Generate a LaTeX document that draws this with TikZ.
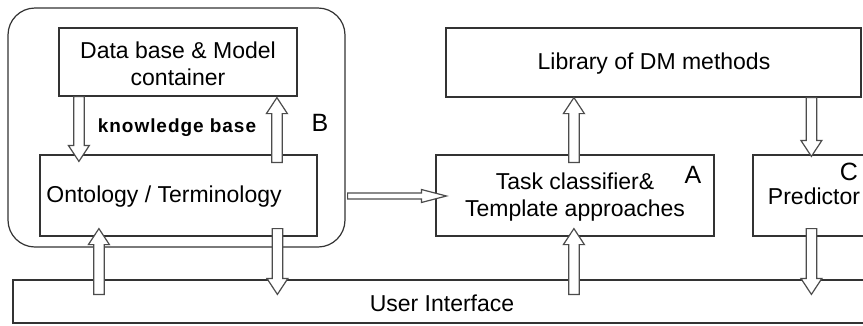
\documentclass[tikz,border=0pt]{standalone}
\usepackage{fontspec}
\setmainfont{Liberation Sans}
\newfontfamily\kbfont[LetterSpace=5.0]{Liberation Sans}
\usetikzlibrary{calc}

% sizes of the hollow block arrows (shaft half width, head half width, head length)
\def\baSW{5.25}
\def\baHW{10.5}
\def\baHL{16}

% hollow block arrow from a tail point to a tip point along the unit direction (#3,#4)
\newcommand\blockarrow[4]{%
  \draw[blockarrow]
       ($(#1)+({-\baSW*(#4)},{\baSW*(#3)})$)
    -- ($(#2)+({-\baHL*(#3)-\baSW*(#4)},{-\baHL*(#4)+\baSW*(#3)})$)
    -- ($(#2)+({-\baHL*(#3)-\baHW*(#4)},{-\baHL*(#4)+\baHW*(#3)})$)
    -- (#2)
    -- ($(#2)+({-\baHL*(#3)+\baHW*(#4)},{-\baHL*(#4)-\baHW*(#3)})$)
    -- ($(#2)+({-\baHL*(#3)+\baSW*(#4)},{-\baHL*(#4)-\baSW*(#3)})$)
    -- ($(#1)+({\baSW*(#4)},{-\baSW*(#3)})$) -- cycle;}

\tikzset{
  box/.style={draw=black!80, line width=1.2pt, rectangle, inner sep=0pt,
              fill=white},
  txt/.style={font=\fontsize{23}{26.5}\selectfont, align=center, inner sep=0pt},
  tag/.style={font=\fontsize{25}{28}\selectfont, inner sep=0pt},
  blockarrow/.style={draw=black!70, line width=1.2pt, fill=white, line join=miter},
}

\begin{document}
\begin{tikzpicture}[x=1pt, y=-1pt]
  \useasboundingbox (0,0) rectangle (863,325);
  \clip (0,0) rectangle (863,325);
  \fill[white] (0,0) rectangle (863,325);

  % group B: knowledge base
  \node[box, rounded corners=27pt, minimum width=337pt, minimum height=239pt]
    (outer) at (176.5,127.5) {};
  \node[box, minimum width=238pt, minimum height=68pt] (db) at (178,62) {};
  \node[txt] (dbt) at (178,64) {Data base \& Model\\container};
  \node[box, minimum width=277pt, minimum height=81pt] (ont) at (178.5,195.5) {};
  \node[txt] (ontt) at (164,197) {Ontology / Terminology};
  \node[inner sep=0pt, font=\fontsize{19}{22}\selectfont\kbfont\bfseries]
    (kb) at (177,128) {knowledge base};
  \node[tag] (tb) at (320,123) {B};

  % DM methods, task classifier, predictor
  \node[box, minimum width=415pt, minimum height=69pt] (lib) at (653.5,62.5) {};
  \node[txt] (libt) at (654,64) {Library of DM methods};
  \node[box, minimum width=278pt, minimum height=81pt] (task) at (575,195.5) {};
  \node[txt] (taskt) at (575,197) {Task classifier\&\\Template approaches};
  \node[tag] (ta) at (693,175) {A};
  \node[box, minimum width=122pt, minimum height=81pt] (pred) at (814,195.5) {};
  \node[txt] (predt) at (814,196) {Predictor};
  \node[tag] (tc) at (849,172) {C};

  % user interface
  \node[box, minimum width=858pt, minimum height=43pt] (ui) at (442,301.5) {};
  \node[txt] (uit) at (442,303) {User Interface};

  % arrow end points
  \coordinate (a1t) at ($(db.south west)+(20.5,0)$);
  \coordinate (a1h) at ($(ont.north -| a1t)+(0,7)$);
  \coordinate (a2t) at ($(ont.north west)+(237.5,8)$);
  \coordinate (a2h) at ($(db.south -| a2t)+(0,1)$);
  \coordinate (a3t) at ($(ui.north west)+(86.5,15)$);
  \coordinate (a3h) at ($(ont.south -| a3t)+(0,-8)$);
  \coordinate (a4t) at ($(ont.south west)+(238,-8)$);
  \coordinate (a4h) at ($(ui.north -| a4t)+(0,15)$);
  \coordinate (a5t) at ($(outer.east |- ont.center)+(2,0.5)$);
  \coordinate (a5h) at ($(task.west |- a5t)+(11,0)$);
  \coordinate (a6t) at ($(task.north west)+(138.5,8)$);
  \coordinate (a6h) at ($(lib.south -| a6t)+(0,0)$);
  \coordinate (a7t) at ($(ui.north -| a6t)+(0,15)$);
  \coordinate (a7h) at ($(task.south -| a6t)+(0,-8)$);
  \coordinate (a8t) at ($(lib.south west)+(366,0)$);
  \coordinate (a8h) at ($(pred.north -| a8t)+(0,2)$);
  \coordinate (a9t) at ($(pred.south -| a8t)+(0,-8)$);
  \coordinate (a9h) at ($(ui.north -| a8t)+(0,15)$);

  % block arrows
  \blockarrow{a1t}{a1h}{0}{1}
  \blockarrow{a2t}{a2h}{0}{-1}
  \blockarrow{a3t}{a3h}{0}{-1}
  \blockarrow{a4t}{a4h}{0}{1}
  \blockarrow{a6t}{a6h}{0}{-1}
  \blockarrow{a7t}{a7h}{0}{-1}
  \blockarrow{a8t}{a8h}{0}{1}
  \blockarrow{a9t}{a9h}{0}{1}
  {\def\baSW{3}\def\baHW{6.5}\def\baHL{25}%
   \blockarrow{a5t}{a5h}{1}{0}}
\end{tikzpicture}
\end{document}
